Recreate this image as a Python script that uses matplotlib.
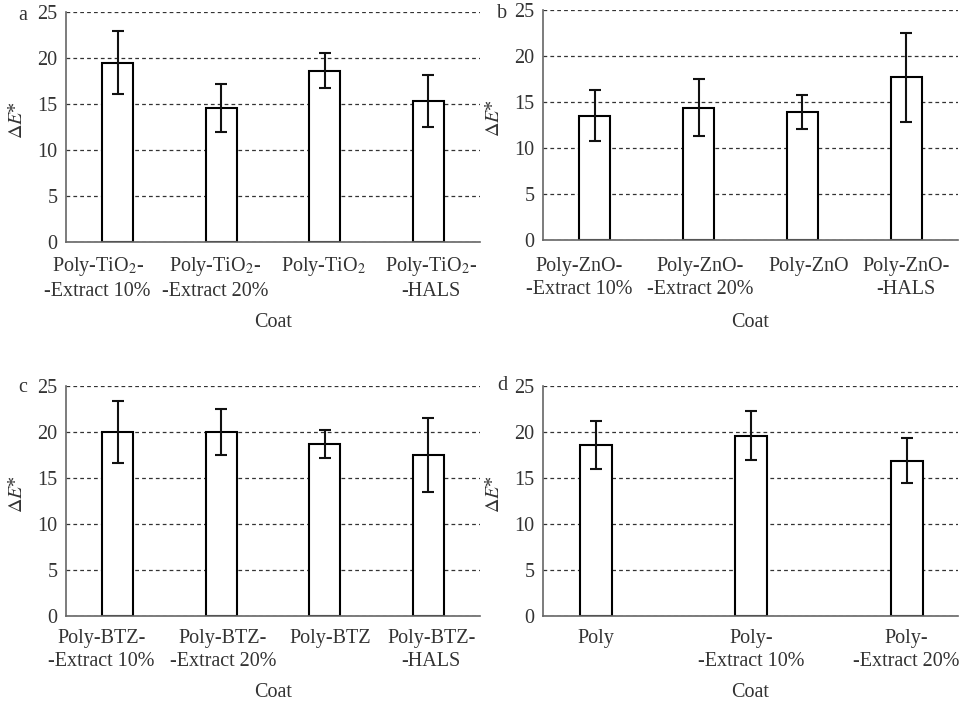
import matplotlib
matplotlib.use("Agg")
import matplotlib.pyplot as plt
import matplotlib.transforms as mtransforms
import numpy as np

plt.rcParams['font.family'] = ['Liberation Serif', 'DejaVu Serif']
plt.rcParams['mathtext.fontset'] = 'stix'

# Colour change ΔE* per coating (mean and standard deviation)
labels_a = ['Poly-TiO$_2$-\n-Extract 10%', 'Poly-TiO$_2$-\n-Extract 20%', 'Poly-TiO$_2$', 'Poly-TiO$_2$-\n-HALS']
means_a = [19.5, 14.6, 18.6, 15.3]
errs_a = [3.4, 2.6, 1.9, 2.85]

labels_b = ['Poly-ZnO-\n-Extract 10%', 'Poly-ZnO-\n-Extract 20%', 'Poly-ZnO', 'Poly-ZnO-\n-HALS']
means_b = [13.5, 14.4, 13.9, 17.7]
errs_b = [2.75, 3.1, 1.85, 4.85]

labels_c = ['Poly-BTZ-\n-Extract 10%', 'Poly-BTZ-\n-Extract 20%', 'Poly-BTZ', 'Poly-BTZ-\n-HALS']
means_c = [20.0, 20.0, 18.7, 17.5]
errs_c = [3.35, 2.5, 1.5, 4.05]

labels_d = ['Poly', 'Poly-\n-Extract 10%', 'Poly-\n-Extract 20%']
means_d = [18.6, 19.6, 16.9]
errs_d = [2.65, 2.65, 2.4]

yticks = [0, 5, 10, 15, 20, 25]

W, H = 967, 702
fig = plt.figure(figsize=(W / 100, H / 100), dpi=100)

def rect(l, t, r, b):
    return [l / W, 1 - b / H, (r - l) / W, (b - t) / H]

TXT = '#333333'
FS = 14.5
# tag, axes rect, labels, means, errors, bar width, xlim, tag position,
# horizontal nudge of each category label (px), x tick pad, x label pad
panels = [
    ('a', rect(66, 12, 480, 242), labels_a, means_a, errs_a, 0.30, (-0.5, 3.5), (18, 15),
     [-20, -6, -1, 3], 9.5, 8),
    ('b', rect(543, 10, 958, 240), labels_b, means_b, errs_b, 0.30, (-0.5, 3.5), (497, 13),
     [-16, 1.5, 6, 0], 12.4, 9.5),
    ('c', rect(66, 386, 480, 616), labels_c, means_c, errs_c, 0.30, (-0.5, 3.5), (18, 387),
     [-16, 1.5, 5, 3], 9.5, 8),
    ('d', rect(543, 386, 958, 616), labels_d, means_d, errs_d, 0.205, (-0.34, 2.33), (497, 385),
     [0, 0, 0], 9.5, 8),
]

for tag, r, labels, means, errs, bw, xl, tpos, nudges, xpad, lpad in panels:
    ax = fig.add_axes(r)
    x = np.arange(len(labels))
    ax.set_axisbelow(True)
    ax.yaxis.grid(True, linestyle=(0, (3, 2.5)), color='#333333', linewidth=0.9)
    ax.bar(x, means, width=bw, color='white', edgecolor='black', linewidth=1.5, zorder=2)
    ax.errorbar(x, means, yerr=errs, fmt='none', ecolor='#111111', elinewidth=1.5,
                capsize=4.5, capthick=1.5, zorder=3)
    ax.set_ylim(0, 25)
    ax.set_xlim(*xl)
    ax.set_yticks(yticks)
    ax.set_xticks(x)
    ax.set_xticklabels(labels, linespacing=1.3)
    for s in ['top', 'right']:
        ax.spines[s].set_visible(False)
    for s in ['left', 'bottom']:
        ax.spines[s].set_color('#666666')
        ax.spines[s].set_linewidth(1.2)
    ax.tick_params(axis='both', length=0, labelsize=FS, labelcolor=TXT)
    ax.tick_params(axis='y', pad=6)
    ax.tick_params(axis='x', pad=xpad)
    for lab, dx in zip(ax.get_xticklabels(), nudges):
        lab.set_transform(lab.get_transform() +
                          mtransforms.ScaledTranslation(dx / 100, 0, fig.dpi_scale_trans))
    ax.set_ylabel(r'$\Delta E$*', fontsize=FS, color=TXT)
    ax.yaxis.set_label_coords(-0.094, 0.53)
    ax.set_xlabel('Coat', fontsize=FS, color=TXT, labelpad=lpad)
    fig.text(tpos[0] / W, 1 - tpos[1] / H, tag, fontsize=FS, color=TXT,
             ha='left', va='center')

fig.savefig('out.png', dpi=100, facecolor='white')
